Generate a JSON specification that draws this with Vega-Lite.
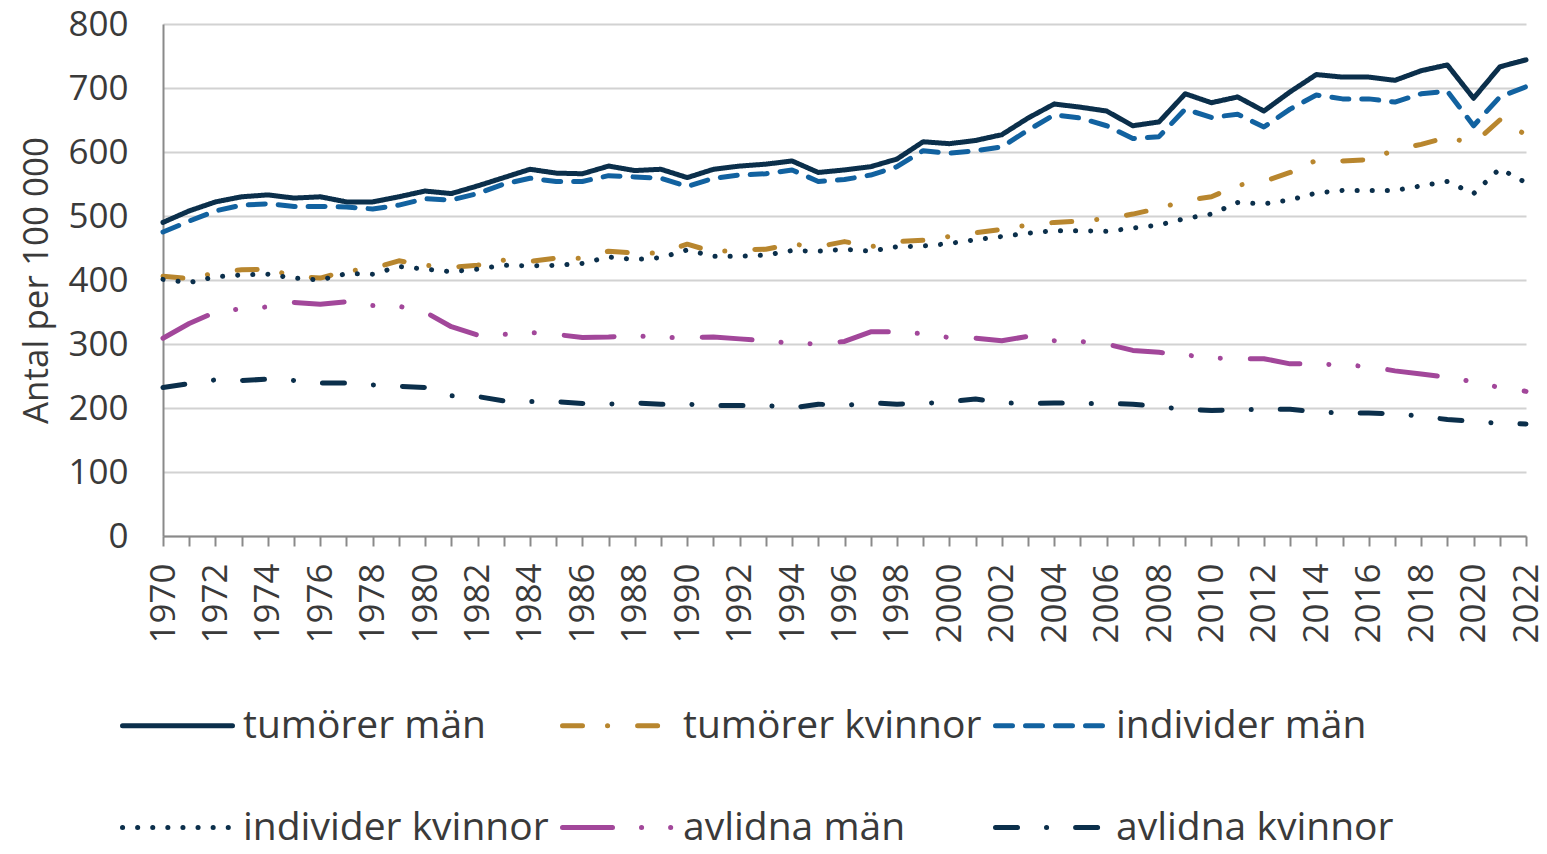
{
"$schema": "https://vega.github.io/schema/vega-lite/v6.json",
"width": 1363, "height": 512,
"autosize": "none",
"padding": {"left": 163, "top": 24, "right": 21, "bottom": 318},
"background": "white",
"config": {"font": "Open Sans", "view": {"stroke": null},
  "legend": {"symbolType": "stroke", "symbolSize": 12100, "symbolStrokeWidth": 5, "labelFontSize": 39, "labelColor": "#3a3a3a", "labelOffset": 8, "columnPadding": 3, "rowPadding": 24, "padding": 0, "labelLimit": 0}},
"data": {"values": [
{"year":1970,"series":"tumörer män","value":490},{"year":1971,"series":"tumörer män","value":508},{"year":1972,"series":"tumörer män","value":522},{"year":1973,"series":"tumörer män","value":530},{"year":1974,"series":"tumörer män","value":533},{"year":1975,"series":"tumörer män","value":528},{"year":1976,"series":"tumörer män","value":530},{"year":1977,"series":"tumörer män","value":522},{"year":1978,"series":"tumörer män","value":522},{"year":1979,"series":"tumörer män","value":530},{"year":1980,"series":"tumörer män","value":539},{"year":1981,"series":"tumörer män","value":535},{"year":1982,"series":"tumörer män","value":547},{"year":1983,"series":"tumörer män","value":560},{"year":1984,"series":"tumörer män","value":573},{"year":1985,"series":"tumörer män","value":567},{"year":1986,"series":"tumörer män","value":566},{"year":1987,"series":"tumörer män","value":578},{"year":1988,"series":"tumörer män","value":571},{"year":1989,"series":"tumörer män","value":573},{"year":1990,"series":"tumörer män","value":560},{"year":1991,"series":"tumörer män","value":573},{"year":1992,"series":"tumörer män","value":578},{"year":1993,"series":"tumörer män","value":581},{"year":1994,"series":"tumörer män","value":586},{"year":1995,"series":"tumörer män","value":568},{"year":1996,"series":"tumörer män","value":572},{"year":1997,"series":"tumörer män","value":577},{"year":1998,"series":"tumörer män","value":589},{"year":1999,"series":"tumörer män","value":616},{"year":2000,"series":"tumörer män","value":613},{"year":2001,"series":"tumörer män","value":618},{"year":2002,"series":"tumörer män","value":627},{"year":2003,"series":"tumörer män","value":653},{"year":2004,"series":"tumörer män","value":675},{"year":2005,"series":"tumörer män","value":670},{"year":2006,"series":"tumörer män","value":664},{"year":2007,"series":"tumörer män","value":641},{"year":2008,"series":"tumörer män","value":647},{"year":2009,"series":"tumörer män","value":691},{"year":2010,"series":"tumörer män","value":677},{"year":2011,"series":"tumörer män","value":686},{"year":2012,"series":"tumörer män","value":664},{"year":2013,"series":"tumörer män","value":694},{"year":2014,"series":"tumörer män","value":721},{"year":2015,"series":"tumörer män","value":717},{"year":2016,"series":"tumörer män","value":717},{"year":2017,"series":"tumörer män","value":712},{"year":2018,"series":"tumörer män","value":727},{"year":2019,"series":"tumörer män","value":736},{"year":2020,"series":"tumörer män","value":684},{"year":2021,"series":"tumörer män","value":733},{"year":2022,"series":"tumörer män","value":744},
{"year":1970,"series":"individer män","value":475},{"year":1971,"series":"individer män","value":492},{"year":1972,"series":"individer män","value":508},{"year":1973,"series":"individer män","value":517},{"year":1974,"series":"individer män","value":519},{"year":1975,"series":"individer män","value":515},{"year":1976,"series":"individer män","value":515},{"year":1977,"series":"individer män","value":514},{"year":1978,"series":"individer män","value":511},{"year":1979,"series":"individer män","value":517},{"year":1980,"series":"individer män","value":527},{"year":1981,"series":"individer män","value":525},{"year":1982,"series":"individer män","value":535},{"year":1983,"series":"individer män","value":550},{"year":1984,"series":"individer män","value":559},{"year":1985,"series":"individer män","value":554},{"year":1986,"series":"individer män","value":554},{"year":1987,"series":"individer män","value":563},{"year":1988,"series":"individer män","value":561},{"year":1989,"series":"individer män","value":559},{"year":1990,"series":"individer män","value":546},{"year":1991,"series":"individer män","value":559},{"year":1992,"series":"individer män","value":564},{"year":1993,"series":"individer män","value":566},{"year":1994,"series":"individer män","value":572},{"year":1995,"series":"individer män","value":554},{"year":1996,"series":"individer män","value":557},{"year":1997,"series":"individer män","value":564},{"year":1998,"series":"individer män","value":577},{"year":1999,"series":"individer män","value":602},{"year":2000,"series":"individer män","value":598},{"year":2001,"series":"individer män","value":602},{"year":2002,"series":"individer män","value":608},{"year":2003,"series":"individer män","value":634},{"year":2004,"series":"individer män","value":658},{"year":2005,"series":"individer män","value":653},{"year":2006,"series":"individer män","value":641},{"year":2007,"series":"individer män","value":621},{"year":2008,"series":"individer män","value":624},{"year":2009,"series":"individer män","value":667},{"year":2010,"series":"individer män","value":654},{"year":2011,"series":"individer män","value":659},{"year":2012,"series":"individer män","value":639},{"year":2013,"series":"individer män","value":667},{"year":2014,"series":"individer män","value":689},{"year":2015,"series":"individer män","value":683},{"year":2016,"series":"individer män","value":683},{"year":2017,"series":"individer män","value":678},{"year":2018,"series":"individer män","value":691},{"year":2019,"series":"individer män","value":695},{"year":2020,"series":"individer män","value":641},{"year":2021,"series":"individer män","value":686},{"year":2022,"series":"individer män","value":702},
{"year":1970,"series":"tumörer kvinnor","value":406},{"year":1971,"series":"tumörer kvinnor","value":402},{"year":1972,"series":"tumörer kvinnor","value":411},{"year":1973,"series":"tumörer kvinnor","value":416},{"year":1974,"series":"tumörer kvinnor","value":417},{"year":1975,"series":"tumörer kvinnor","value":406},{"year":1976,"series":"tumörer kvinnor","value":403},{"year":1977,"series":"tumörer kvinnor","value":414},{"year":1978,"series":"tumörer kvinnor","value":418},{"year":1979,"series":"tumörer kvinnor","value":430},{"year":1980,"series":"tumörer kvinnor","value":423},{"year":1981,"series":"tumörer kvinnor","value":420},{"year":1982,"series":"tumörer kvinnor","value":423},{"year":1983,"series":"tumörer kvinnor","value":431},{"year":1984,"series":"tumörer kvinnor","value":429},{"year":1985,"series":"tumörer kvinnor","value":434},{"year":1986,"series":"tumörer kvinnor","value":434},{"year":1987,"series":"tumörer kvinnor","value":445},{"year":1988,"series":"tumörer kvinnor","value":442},{"year":1989,"series":"tumörer kvinnor","value":442},{"year":1990,"series":"tumörer kvinnor","value":456},{"year":1991,"series":"tumörer kvinnor","value":444},{"year":1992,"series":"tumörer kvinnor","value":447},{"year":1993,"series":"tumörer kvinnor","value":448},{"year":1994,"series":"tumörer kvinnor","value":456},{"year":1995,"series":"tumörer kvinnor","value":452},{"year":1996,"series":"tumörer kvinnor","value":460},{"year":1997,"series":"tumörer kvinnor","value":452},{"year":1998,"series":"tumörer kvinnor","value":460},{"year":1999,"series":"tumörer kvinnor","value":462},{"year":2000,"series":"tumörer kvinnor","value":468},{"year":2001,"series":"tumörer kvinnor","value":474},{"year":2002,"series":"tumörer kvinnor","value":479},{"year":2003,"series":"tumörer kvinnor","value":486},{"year":2004,"series":"tumörer kvinnor","value":490},{"year":2005,"series":"tumörer kvinnor","value":492},{"year":2006,"series":"tumörer kvinnor","value":496},{"year":2007,"series":"tumörer kvinnor","value":503},{"year":2008,"series":"tumörer kvinnor","value":512},{"year":2009,"series":"tumörer kvinnor","value":524},{"year":2010,"series":"tumörer kvinnor","value":530},{"year":2011,"series":"tumörer kvinnor","value":548},{"year":2012,"series":"tumörer kvinnor","value":554},{"year":2013,"series":"tumörer kvinnor","value":568},{"year":2014,"series":"tumörer kvinnor","value":587},{"year":2015,"series":"tumörer kvinnor","value":586},{"year":2016,"series":"tumörer kvinnor","value":588},{"year":2017,"series":"tumörer kvinnor","value":603},{"year":2018,"series":"tumörer kvinnor","value":612},{"year":2019,"series":"tumörer kvinnor","value":623},{"year":2020,"series":"tumörer kvinnor","value":613},{"year":2021,"series":"tumörer kvinnor","value":650},{"year":2022,"series":"tumörer kvinnor","value":627},
{"year":1970,"series":"individer kvinnor","value":401},{"year":1971,"series":"individer kvinnor","value":396},{"year":1972,"series":"individer kvinnor","value":405},{"year":1973,"series":"individer kvinnor","value":408},{"year":1974,"series":"individer kvinnor","value":409},{"year":1975,"series":"individer kvinnor","value":403},{"year":1976,"series":"individer kvinnor","value":400},{"year":1977,"series":"individer kvinnor","value":410},{"year":1978,"series":"individer kvinnor","value":409},{"year":1979,"series":"individer kvinnor","value":421},{"year":1980,"series":"individer kvinnor","value":417},{"year":1981,"series":"individer kvinnor","value":413},{"year":1982,"series":"individer kvinnor","value":417},{"year":1983,"series":"individer kvinnor","value":423},{"year":1984,"series":"individer kvinnor","value":422},{"year":1985,"series":"individer kvinnor","value":423},{"year":1986,"series":"individer kvinnor","value":426},{"year":1987,"series":"individer kvinnor","value":436},{"year":1988,"series":"individer kvinnor","value":432},{"year":1989,"series":"individer kvinnor","value":435},{"year":1990,"series":"individer kvinnor","value":447},{"year":1991,"series":"individer kvinnor","value":437},{"year":1992,"series":"individer kvinnor","value":437},{"year":1993,"series":"individer kvinnor","value":439},{"year":1994,"series":"individer kvinnor","value":446},{"year":1995,"series":"individer kvinnor","value":445},{"year":1996,"series":"individer kvinnor","value":448},{"year":1997,"series":"individer kvinnor","value":445},{"year":1998,"series":"individer kvinnor","value":452},{"year":1999,"series":"individer kvinnor","value":453},{"year":2000,"series":"individer kvinnor","value":457},{"year":2001,"series":"individer kvinnor","value":463},{"year":2002,"series":"individer kvinnor","value":468},{"year":2003,"series":"individer kvinnor","value":473},{"year":2004,"series":"individer kvinnor","value":477},{"year":2005,"series":"individer kvinnor","value":477},{"year":2006,"series":"individer kvinnor","value":476},{"year":2007,"series":"individer kvinnor","value":481},{"year":2008,"series":"individer kvinnor","value":486},{"year":2009,"series":"individer kvinnor","value":496},{"year":2010,"series":"individer kvinnor","value":503},{"year":2011,"series":"individer kvinnor","value":521},{"year":2012,"series":"individer kvinnor","value":519},{"year":2013,"series":"individer kvinnor","value":525},{"year":2014,"series":"individer kvinnor","value":536},{"year":2015,"series":"individer kvinnor","value":540},{"year":2016,"series":"individer kvinnor","value":540},{"year":2017,"series":"individer kvinnor","value":540},{"year":2018,"series":"individer kvinnor","value":547},{"year":2019,"series":"individer kvinnor","value":554},{"year":2020,"series":"individer kvinnor","value":535},{"year":2021,"series":"individer kvinnor","value":574},{"year":2022,"series":"individer kvinnor","value":552},
{"year":1970,"series":"avlidna män","value":309},{"year":1971,"series":"avlidna män","value":332},{"year":1972,"series":"avlidna män","value":350},{"year":1973,"series":"avlidna män","value":355},{"year":1974,"series":"avlidna män","value":358},{"year":1975,"series":"avlidna män","value":365},{"year":1976,"series":"avlidna män","value":362},{"year":1977,"series":"avlidna män","value":366},{"year":1978,"series":"avlidna män","value":360},{"year":1979,"series":"avlidna män","value":359},{"year":1980,"series":"avlidna män","value":350},{"year":1981,"series":"avlidna män","value":327},{"year":1982,"series":"avlidna män","value":314},{"year":1983,"series":"avlidna män","value":315},{"year":1984,"series":"avlidna män","value":318},{"year":1985,"series":"avlidna män","value":315},{"year":1986,"series":"avlidna män","value":310},{"year":1987,"series":"avlidna män","value":311},{"year":1988,"series":"avlidna män","value":313},{"year":1989,"series":"avlidna män","value":310},{"year":1990,"series":"avlidna män","value":310},{"year":1991,"series":"avlidna män","value":311},{"year":1992,"series":"avlidna män","value":308},{"year":1993,"series":"avlidna män","value":305},{"year":1994,"series":"avlidna män","value":301},{"year":1995,"series":"avlidna män","value":300},{"year":1996,"series":"avlidna män","value":304},{"year":1997,"series":"avlidna män","value":319},{"year":1998,"series":"avlidna män","value":319},{"year":1999,"series":"avlidna män","value":316},{"year":2000,"series":"avlidna män","value":310},{"year":2001,"series":"avlidna män","value":309},{"year":2002,"series":"avlidna män","value":305},{"year":2003,"series":"avlidna män","value":312},{"year":2004,"series":"avlidna män","value":305},{"year":2005,"series":"avlidna män","value":304},{"year":2006,"series":"avlidna män","value":300},{"year":2007,"series":"avlidna män","value":290},{"year":2008,"series":"avlidna män","value":287},{"year":2009,"series":"avlidna män","value":283},{"year":2010,"series":"avlidna män","value":278},{"year":2011,"series":"avlidna män","value":277},{"year":2012,"series":"avlidna män","value":277},{"year":2013,"series":"avlidna män","value":269},{"year":2014,"series":"avlidna män","value":269},{"year":2015,"series":"avlidna män","value":267},{"year":2016,"series":"avlidna män","value":265},{"year":2017,"series":"avlidna män","value":258},{"year":2018,"series":"avlidna män","value":253},{"year":2019,"series":"avlidna män","value":248},{"year":2020,"series":"avlidna män","value":241},{"year":2021,"series":"avlidna män","value":232},{"year":2022,"series":"avlidna män","value":226},
{"year":1970,"series":"avlidna kvinnor","value":232},{"year":1971,"series":"avlidna kvinnor","value":238},{"year":1972,"series":"avlidna kvinnor","value":244},{"year":1973,"series":"avlidna kvinnor","value":243},{"year":1974,"series":"avlidna kvinnor","value":245},{"year":1975,"series":"avlidna kvinnor","value":243},{"year":1976,"series":"avlidna kvinnor","value":239},{"year":1977,"series":"avlidna kvinnor","value":239},{"year":1978,"series":"avlidna kvinnor","value":236},{"year":1979,"series":"avlidna kvinnor","value":234},{"year":1980,"series":"avlidna kvinnor","value":232},{"year":1981,"series":"avlidna kvinnor","value":219},{"year":1982,"series":"avlidna kvinnor","value":218},{"year":1983,"series":"avlidna kvinnor","value":211},{"year":1984,"series":"avlidna kvinnor","value":210},{"year":1985,"series":"avlidna kvinnor","value":210},{"year":1986,"series":"avlidna kvinnor","value":207},{"year":1987,"series":"avlidna kvinnor","value":206},{"year":1988,"series":"avlidna kvinnor","value":208},{"year":1989,"series":"avlidna kvinnor","value":206},{"year":1990,"series":"avlidna kvinnor","value":206},{"year":1991,"series":"avlidna kvinnor","value":204},{"year":1992,"series":"avlidna kvinnor","value":204},{"year":1993,"series":"avlidna kvinnor","value":204},{"year":1994,"series":"avlidna kvinnor","value":200},{"year":1995,"series":"avlidna kvinnor","value":206},{"year":1996,"series":"avlidna kvinnor","value":204},{"year":1997,"series":"avlidna kvinnor","value":208},{"year":1998,"series":"avlidna kvinnor","value":206},{"year":1999,"series":"avlidna kvinnor","value":207},{"year":2000,"series":"avlidna kvinnor","value":210},{"year":2001,"series":"avlidna kvinnor","value":214},{"year":2002,"series":"avlidna kvinnor","value":208},{"year":2003,"series":"avlidna kvinnor","value":207},{"year":2004,"series":"avlidna kvinnor","value":208},{"year":2005,"series":"avlidna kvinnor","value":207},{"year":2006,"series":"avlidna kvinnor","value":207},{"year":2007,"series":"avlidna kvinnor","value":206},{"year":2008,"series":"avlidna kvinnor","value":202},{"year":2009,"series":"avlidna kvinnor","value":198},{"year":2010,"series":"avlidna kvinnor","value":196},{"year":2011,"series":"avlidna kvinnor","value":197},{"year":2012,"series":"avlidna kvinnor","value":198},{"year":2013,"series":"avlidna kvinnor","value":198},{"year":2014,"series":"avlidna kvinnor","value":194},{"year":2015,"series":"avlidna kvinnor","value":192},{"year":2016,"series":"avlidna kvinnor","value":192},{"year":2017,"series":"avlidna kvinnor","value":191},{"year":2018,"series":"avlidna kvinnor","value":187},{"year":2019,"series":"avlidna kvinnor","value":182},{"year":2020,"series":"avlidna kvinnor","value":179},{"year":2021,"series":"avlidna kvinnor","value":176},{"year":2022,"series":"avlidna kvinnor","value":175}
]},
"mark": {"type": "line", "strokeWidth": 5, "strokeCap": "round", "strokeJoin": "round"},
"encoding": {
  "x": {"field": "year", "type": "quantitative",
    "scale": {"domain": [1970, 2022], "nice": false, "zero": false},
    "axis": {"title": null, "values": [1970,1971,1972,1973,1974,1975,1976,1977,1978,1979,1980,1981,1982,1983,1984,1985,1986,1987,1988,1989,1990,1991,1992,1993,1994,1995,1996,1997,1998,1999,2000,2001,2002,2003,2004,2005,2006,2007,2008,2009,2010,2011,2012,2013,2014,2015,2016,2017,2018,2019,2020,2021,2022],
      "format": "d", "labelExpr": "datum.value % 2 == 0 ? datum.label : ''",
      "labelAngle": -90, "labelFontSize": 35, "labelColor": "#3a3a3a", "labelPadding": 17,
      "labelFlush": false, "labelOverlap": false, "labelBound": false,
      "tickSize": 10, "tickColor": "#8a8a8a", "tickWidth": 2,
      "domainColor": "#8a8a8a", "domainWidth": 2, "grid": false}},
  "y": {"field": "value", "type": "quantitative",
    "scale": {"domain": [0, 800], "nice": false},
    "axis": {"title": "Antal per 100 000", "values": [0,100,200,300,400,500,600,700,800],
      "labelFontSize": 35, "labelColor": "#3a3a3a", "ticks": false, "labelPadding": 35,
      "domainColor": "#8a8a8a", "domainWidth": 2, "gridColor": "#d2d2d2", "gridWidth": 2,
      "titleFontSize": 35, "titleFontWeight": "normal", "titleColor": "#3a3a3a",
      "titleX": -116, "titleY": 256, "titleAngle": -90, "titleAlign": "center", "titleBaseline": "alphabetic"}},
  "color": {"field": "series", "type": "nominal",
    "scale": {"domain": ["tumörer män","tumörer kvinnor","individer män","individer kvinnor","avlidna män","avlidna kvinnor"],
      "range": ["#0b2f4b","#b8862e","#1262a0","#0b2f4b","#a2479a","#0b2f4b"]},
    "legend": {"title": null, "orient": "none", "legendX": -43, "legendY": 644, "columns": 3, "direction": "horizontal",
      "encode": {"symbols": {"update": {"strokeCap": {"value": "round"}}}}}},
  "strokeDash": {"field": "series", "type": "nominal",
    "scale": {"domain": ["tumörer män","tumörer kvinnor","individer män","individer kvinnor","avlidna män","avlidna kvinnor"],
      "range": [[1,0],[20,25,0.1,30],[17,13],[0.1,15],[50,29,0.1,29,0.1,30],[22,29,0.1,29]]},
    "legend": {"title": null, "orient": "none", "legendX": -43, "legendY": 644, "columns": 3, "direction": "horizontal",
      "encode": {"symbols": {"update": {"strokeCap": {"value": "round"}}}}}}
}
}
